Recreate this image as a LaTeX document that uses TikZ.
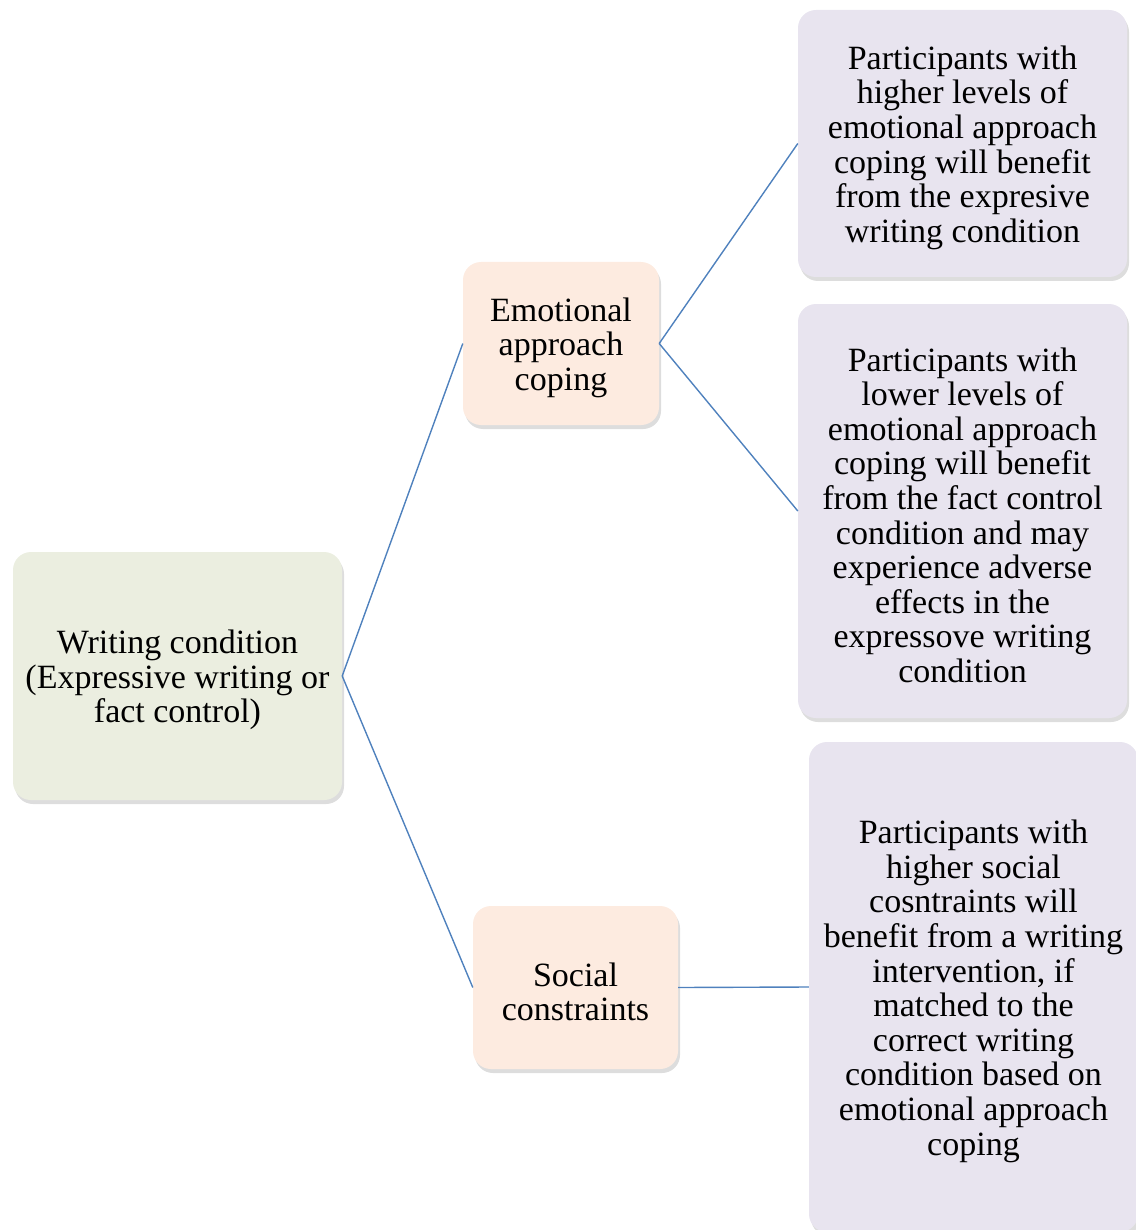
\documentclass[tikz,border=0pt]{standalone}
\usepackage{fontspec}
\setmainfont{Liberation Serif}
\usetikzlibrary{shadows}
\definecolor{boxgreen}{HTML}{EBEEE0}
\definecolor{boxpeach}{HTML}{FDEBE0}
\definecolor{boxlilac}{HTML}{E8E4EF}
\definecolor{linkblue}{HTML}{4F81BD}
\newcommand{\lift}{\rule{0pt}{32pt}}
\begin{document}
\begin{tikzpicture}[x=1pt,y=-1pt,
    card/.style={rectangle, rounded corners=18pt, inner sep=0pt, align=center,
      font=\fontsize{34}{34.6}\selectfont,
      drop shadow={opacity=0.22, shadow xshift=2pt, shadow yshift=-4pt, fill=black!60}},
    link/.style={draw=linkblue, line width=1.4pt}]
      \useasboundingbox (0,0) rectangle (1135,1230);

      \node[card, fill=boxgreen, minimum width=329pt, minimum height=248pt] (write) at (177.5,676)
        {\lift Writing condition\\(Expressive writing or\\fact control)};
      \node[card, fill=boxpeach, minimum width=196pt, minimum height=163pt] (emo) at (561,343.5)
        {\lift Emotional\\approach\\coping};
      \node[card, fill=boxpeach, minimum width=205pt, minimum height=163pt] (soc) at (575.5,987.5)
        {\lift Social\\constraints};

      \node[card, fill=boxlilac, minimum width=329pt, minimum height=267pt] (high) at (962.5,143.5)
        {\lift Participants with\\higher levels of\\emotional approach\\coping will benefit\\from the expresive\\writing condition};
      \node[card, fill=boxlilac, minimum width=329pt, minimum height=414pt] (low) at (962.5,511)
        {\lift Participants with\\lower levels of\\emotional approach\\coping will benefit\\from the fact control\\condition and may\\experience adverse\\effects in the\\expressove writing\\condition};
      \node[card, fill=boxlilac, minimum width=329pt, minimum height=490pt] (match) at (973.5,987)
        {\lift Participants with\\higher social\\cosntraints will\\benefit from a writing\\intervention, if\\matched to the\\correct writing\\condition based on\\emotional approach\\coping};

      \draw[link] (write.east) -- (emo.west) (write.east) -- (soc.west);
      \draw[link] (emo.east) -- (high.west) (emo.east) -- (low.west);
      \draw[link] (soc.east) -- (match.west);
    \end{tikzpicture}
\end{document}
